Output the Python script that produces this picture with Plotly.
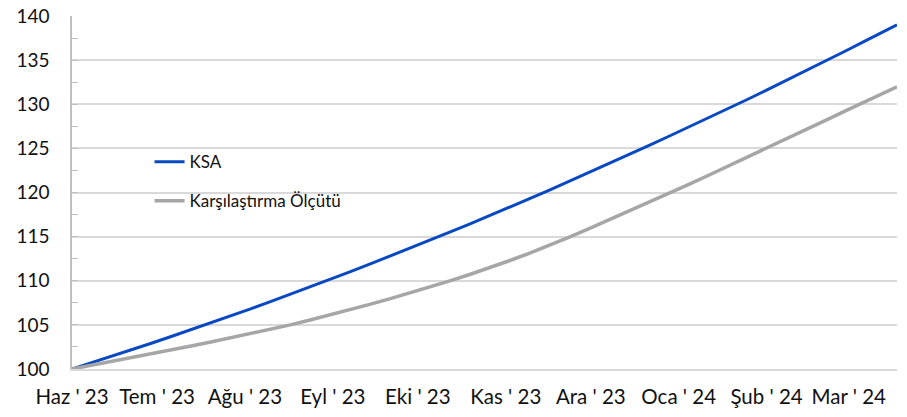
import pandas as pd
import plotly.graph_objects as go

# Weekly observation dates, plus final observation
dates = list(pd.date_range("2023-06-01", periods=42, freq="7D")) + [pd.Timestamp("2024-03-18")]

ksa = [100.00, 100.71, 101.44, 102.17, 102.92, 103.68, 104.45, 105.23, 106.02,
       106.82, 107.63, 108.46, 109.30, 110.14, 111.00, 111.88, 112.76, 113.65,
       114.56, 115.47, 116.40, 117.33, 118.29, 119.25, 120.22, 121.21, 122.20,
       123.21, 124.23, 125.26, 126.29, 127.33, 128.38, 129.44, 130.51, 131.60,
       132.70, 133.81, 134.93, 136.06, 137.20, 138.35, 139.00]

benchmark = [100.00, 100.42, 100.85, 101.28, 101.72, 102.16, 102.61, 103.06, 103.52,
             103.98, 104.48, 105.00, 105.55, 106.12, 106.71, 107.32, 107.95, 108.60,
             109.27, 109.96, 110.68, 111.44, 112.24, 113.08, 113.96, 114.88, 115.84,
             116.82, 117.81, 118.81, 119.82, 120.84, 121.87, 122.91, 123.96, 125.02,
             126.08, 127.14, 128.21, 129.28, 130.36, 131.44, 131.98]

tick_dates = list(pd.date_range("2023-06-01", periods=10, freq="MS"))
tick_labels = ["Haz ' 23", "Tem ' 23", "Ağu ' 23", "Eyl ' 23", "Eki ' 23",
               "Kas ' 23", "Ara ' 23", "Oca ' 24", "Şub ' 24", "Mar ' 24"]

series_names = ["KSA", "Karşılaştırma Ölçütü"]

FONT = "Lato, 'Open Sans', sans-serif"

fig = go.Figure()
fig.add_trace(go.Scatter(x=dates, y=ksa, mode="lines", name=series_names[0],
                         legendgroup="a",
                         line=dict(color="#0848c2", width=3)))
fig.add_trace(go.Scatter(x=dates, y=benchmark, mode="lines", name=series_names[1],
                         legendgroup="b",
                         line=dict(color="#a6a6a6", width=3.5)))

# white separators through gridlines at each month tick
for d in tick_dates[1:]:
    fig.add_shape(type="line", xref="x", yref="paper", x0=d, x1=d, y0=0, y1=1,
                  line=dict(color="white", width=2), layer="between")

fig.update_layout(
    width=907, height=417,
    margin=dict(l=72, r=10, t=16, b=48),
    paper_bgcolor="white", plot_bgcolor="white",
    font=dict(family=FONT, size=18, color="#111111"),
    showlegend=True,
    legend=dict(x=0.094, y=0.637, xanchor="left", yanchor="top",
                bgcolor="rgba(0,0,0,0)", tracegroupgap=14,
                font=dict(family=FONT, size=17, color="#111111")),
    xaxis=dict(
        type="date", automargin=False,
        range=[pd.Timestamp("2023-06-01"), pd.Timestamp("2024-03-18")],
        tickmode="array", tickvals=tick_dates, ticktext=tick_labels,
        showgrid=False, showline=True, linecolor="#d9d9d9", linewidth=1.5,
        ticks="", ticklabelstandoff=9, ticklabeloverflow="allow",
        tickfont=dict(family=FONT, size=20.5, color="#111111"),
        zeroline=False,
    ),
    yaxis=dict(
        range=[100, 140], dtick=5, tick0=100, automargin=False,
        showgrid=True, gridcolor="#d9d9d9", gridwidth=1.5,
        showline=True, linecolor="#bfbfbf", linewidth=1.5,
        ticks="inside", ticklen=6, tickcolor="#bfbfbf",
        minor=dict(dtick=2.5, ticks="inside", ticklen=6, tickcolor="#bfbfbf", showgrid=False),
        ticklabelstandoff=17, ticklabeloverflow="allow",
        tickfont=dict(family=FONT, size=19, color="#111111"),
        zeroline=False,
    ),
)

# remove the browser's default 8px page margin so the figure fills the window
fig.write_html("out.html",
               config={"displayModeBar": False},
               post_script="document.body.style.margin='0';document.body.style.overflow='hidden';")
